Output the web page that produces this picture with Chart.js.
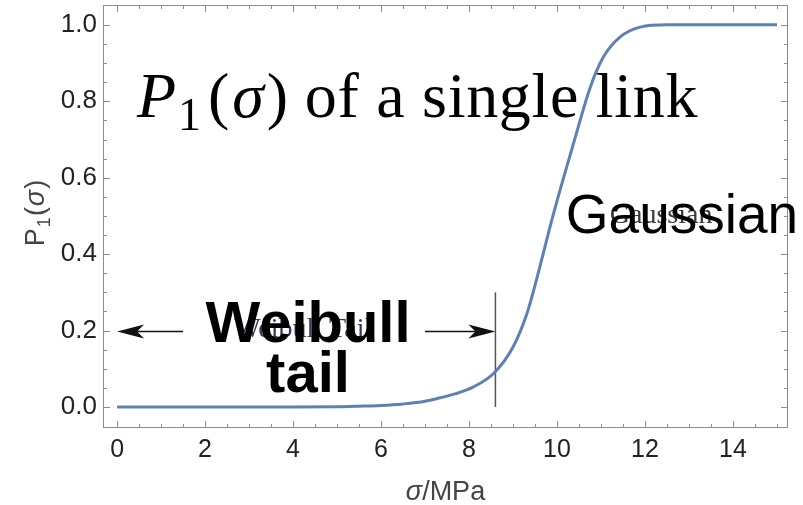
<!DOCTYPE html>
<html>
<head>
<meta charset="utf-8">
<script src="https://cdn.jsdelivr.net/npm/chart.js@4.4.1/dist/chart.umd.min.js"></script>
<style>
  html, body { margin: 0; padding: 0; background: #fff; }
</style>
</head>
<body>
<canvas id="p1Chart" width="803" height="505"></canvas>
<script>
// значення
const sigma = [0, 2, 4, 5, 5.5, 6, 6.5, 7, 7.34, 7.7, 8.09, 8.57, 9.0, 9.32, 9.61, 9.84, 10.07, 10.3, 10.45, 10.75, 11.05, 11.43, 11.89, 12.5, 13, 14, 15];
const p1 = [0, 0, 0, 0.0005, 0.002, 0.004, 0.008, 0.015, 0.024, 0.035, 0.052, 0.089, 0.157, 0.246, 0.367, 0.471, 0.568, 0.66, 0.72, 0.835, 0.915, 0.968, 0.994, 1, 1, 1, 1];

const xTicks = [0, 2, 4, 6, 8, 10, 12, 14];
const yTicks = [0, 0.2, 0.4, 0.6, 0.8, 1.0];

// межа хвоста Вейбулла
const tailEdge = 8.6;
const tailLineTop = 0.3;
const arrowLevel = 0.2;
const leftArrow = [1.5, 0];      // від, до
const rightArrow = [7.0, tailEdge];

const xRange = [-0.32, 15.25];
const yRange = [-0.055, 1.052];

const frameColor = '#8c8c8c';
const curveColor = '#5E81B5';

function drawFrame(ctx, a, x, y) {
    ctx.save();
    ctx.strokeStyle = frameColor;
    ctx.lineWidth = 1;
    ctx.strokeRect(a.left + 0.5, a.top + 0.5, a.right - a.left - 1, a.bottom - a.top - 1);
    ctx.beginPath();
    for (let v = 0; v <= 15; v += 0.5) {
        const len = xTicks.includes(v) ? 7 : 4;
        const px = Math.round(x.getPixelForValue(v)) + 0.5;
        ctx.moveTo(px, a.bottom); ctx.lineTo(px, a.bottom - len);
        ctx.moveTo(px, a.top); ctx.lineTo(px, a.top + len);
    }
    for (let i = 0; i <= 20; i++) {
        const v = i * 0.05;
        const len = i % 4 === 0 ? 7 : 4;
        const py = Math.round(y.getPixelForValue(v)) + 0.5;
        ctx.moveTo(a.left, py); ctx.lineTo(a.left + len, py);
        ctx.moveTo(a.right, py); ctx.lineTo(a.right - len, py);
    }
    ctx.stroke();
    ctx.restore();
}

function arrow(ctx, x0, x1, py) {
    const dir = Math.sign(x1 - x0);
    ctx.beginPath();
    ctx.moveTo(x0, py); ctx.lineTo(x1 - dir * 20, py);
    ctx.stroke();
    ctx.beginPath();
    ctx.moveTo(x1, py);
    ctx.lineTo(x1 - dir * 27, py - 7);
    ctx.lineTo(x1 - dir * 20, py);
    ctx.lineTo(x1 - dir * 27, py + 7);
    ctx.closePath();
    ctx.fill();
}

const overlay = {
    id: 'overlay',
    afterDraw(chart) {
        const {ctx, chartArea: a, scales: {x, y}} = chart;
        drawFrame(ctx, a, x, y);

        ctx.save();
        // невеликі підписи
        ctx.fillStyle = '#333a55';
        ctx.font = '28px "Liberation Serif"';
        ctx.textAlign = 'center';
        ctx.textBaseline = 'alphabetic';
        ctx.fillText('Weibull Tail', x.getPixelForValue(4.23), y.getPixelForValue(0.183));
        ctx.textAlign = 'left';
        ctx.fillStyle = '#3a3a3a';
        ctx.fillText('Gaussian', x.getPixelForValue(11.2), y.getPixelForValue(0.482));

        // стрілки
        ctx.strokeStyle = '#111';
        ctx.fillStyle = '#111';
        ctx.lineWidth = 1.3;
        const ay = Math.round(y.getPixelForValue(arrowLevel)) + 0.5;
        arrow(ctx, x.getPixelForValue(leftArrow[0]), x.getPixelForValue(leftArrow[1]), ay);
        arrow(ctx, x.getPixelForValue(rightArrow[0]), x.getPixelForValue(rightArrow[1]), ay);

        // великі підписи
        ctx.fillStyle = '#000';
        ctx.font = 'bold 58px "Liberation Sans"';
        ctx.textAlign = 'center';
        ctx.fillText('Weibull', x.getPixelForValue(4.34), y.getPixelForValue(0.17));
        ctx.fillText('tail', x.getPixelForValue(4.34), y.getPixelForValue(0.039));
        ctx.textAlign = 'left';
        ctx.font = '55px "Liberation Sans"';
        ctx.fillText('Gaussian', x.getPixelForValue(10.2), y.getPixelForValue(0.455));

        // заголовок P1(σ) of a single link
        let tx = x.getPixelForValue(0.45);
        const ty = y.getPixelForValue(0.759);
        const parts = [
            ['P', 'italic 64px "Liberation Serif"', 0, 2],
            ['1', '46px "Liberation Serif"', 13, 7],
            ['(', '64px "Liberation Serif"', 0, 3],
            ['σ', 'italic 64px "Liberation Serif"', 0, 3],
            [')', '64px "Liberation Serif"', 0, 0],
            [' of a single link', '64px "Liberation Serif"', 0, 0]
        ];
        for (const [t, f, dy, gap] of parts) {
            ctx.font = f;
            ctx.letterSpacing = t.length > 2 ? '0.7px' : '0px';
            ctx.fillText(t, tx, ty + dy);
            tx += ctx.measureText(t).width + gap;
        }
        ctx.letterSpacing = '0px';

        // назви осей
        ctx.fillStyle = '#444';
        ctx.textAlign = 'left';
        const xt = [['σ', 'italic 27px "Liberation Sans"'], ['/MPa', '27px "Liberation Sans"']];
        let w = 0;
        for (const [t, f] of xt) { ctx.font = f; w += ctx.measureText(t).width; }
        let cx = (a.left + a.right) / 2 - w / 2;
        for (const [t, f] of xt) { ctx.font = f; ctx.fillText(t, cx, 500); cx += ctx.measureText(t).width; }

        ctx.translate(44, (a.top + a.bottom) / 2 - 4);
        ctx.rotate(-Math.PI / 2);
        const yt = [['P', '27px "Liberation Sans"', 0], ['1', '18px "Liberation Sans"', 6], ['(', '27px "Liberation Sans"', 0], ['σ', 'italic 27px "Liberation Sans"', 0], [')', '27px "Liberation Sans"', 0]];
        w = 0;
        for (const [t, f] of yt) { ctx.font = f; w += ctx.measureText(t).width + 1; }
        cx = -w / 2;
        for (const [t, f, dy] of yt) { ctx.font = f; ctx.fillText(t, cx, dy); cx += ctx.measureText(t).width + 1; }
        ctx.restore();
    }
};

new Chart(document.getElementById('p1Chart'), {
    type: 'line',
    data: {
        datasets: [{
            data: sigma.map((s, i) => ({x: s, y: p1[i]})),
            borderColor: curveColor,
            borderWidth: 3,
            pointRadius: 0,
            cubicInterpolationMode: 'monotone',
            fill: false
        }, {
            data: [{x: tailEdge, y: 0}, {x: tailEdge, y: tailLineTop}],
            borderColor: '#555',
            borderWidth: 1.5,
            pointRadius: 0,
            tension: 0
        }]
    },
    options: {
        responsive: false,
        devicePixelRatio: 1,
        animation: false,
        layout: { padding: { top: 5, right: 15, left: 0, bottom: 0 } },
        plugins: { legend: { display: false }, tooltip: { enabled: false } },
        scales: {
            x: {
                type: 'linear',
                min: xRange[0],
                max: xRange[1],
                afterBuildTicks: s => { s.ticks = xTicks.map(v => ({value: v})); },
                afterFit: s => { s.height = 77; s.paddingLeft = 0; s.paddingRight = 0; },
                grid: { display: false, drawTicks: false },
                border: { display: false },
                ticks: { font: { family: 'Liberation Sans', size: 25 }, color: '#222', padding: 7, maxRotation: 0 }
            },
            y: {
                min: yRange[0],
                max: yRange[1],
                afterBuildTicks: s => { s.ticks = yTicks.map(v => ({value: v})); },
                afterFit: s => { s.width = 103; s.paddingTop = 0; s.paddingBottom = 0; },
                grid: { display: false, drawTicks: false },
                border: { display: false },
                ticks: { font: { family: 'Liberation Sans', size: 26 }, color: '#222', padding: 6, callback: v => v.toFixed(1) }
            }
        }
    },
    plugins: [overlay]
});
</script>
</body>
</html>
